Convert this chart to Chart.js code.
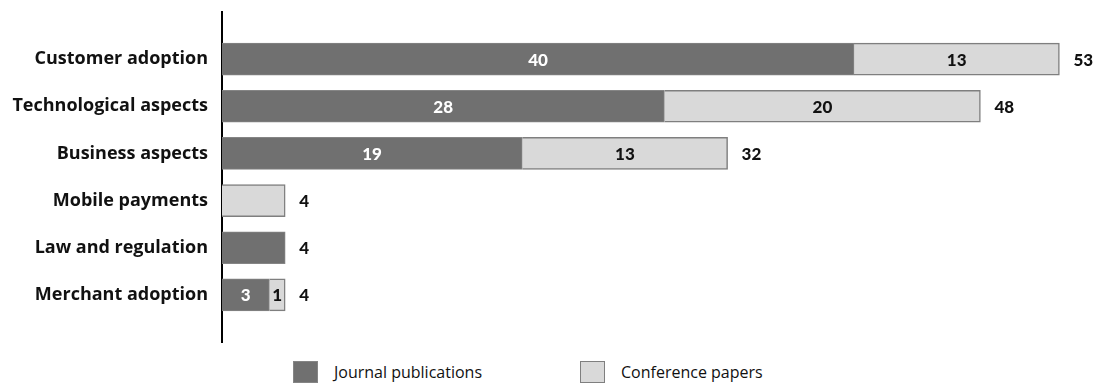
<!DOCTYPE html>
<html>
<head>
<meta charset="utf-8">
<script src="https://cdn.jsdelivr.net/npm/chart.js@4"></script>
<style>
  body { margin: 0; background: #fff; }
  #wrap { width: 1095px; height: 350px; position: relative; }
  #legend { position: relative; width: 1095px; height: 33px; font-family: 'Open Sans', sans-serif; font-size: 16px; color: #111; }
  #legend .item { position: absolute; top: 11px; height: 22px; line-height: 22px; white-space: nowrap; }
  #legend .box { display: inline-block; width: 25px; height: 22px; box-sizing: border-box; vertical-align: top; margin-right: 16px; }
</style>
</head>
<body>
<div id="wrap"><canvas id="bar-chart"></canvas></div>
<div id="legend"></div>
<script>
var categories = ["Customer adoption", "Technological aspects", "Business aspects",
                  "Mobile payments", "Law and regulation", "Merchant adoption"];
var journal = [40, 28, 19, 0, 4, 3];
var conference = [13, 20, 13, 4, 0, 1];

// bars sit on a linear index axis so the axis line runs past the first/last row
function points(values) {
  return values.map(function (v, i) { return { x: v || null, y: i }; });
}

var FONT = "'Open Sans', 'DejaVu Sans', sans-serif";
var NUM_FONT = "900 17px Lato, 'DejaVu Sans', sans-serif";

// segment numbers inside the bars and the totals at their right end
var barLabels = {
  id: 'barLabels',
  afterDatasetsDraw: function (chart) {
    var ctx = chart.ctx;
    ctx.save();
    ctx.font = NUM_FONT;
    ctx.textBaseline = 'middle';
    ctx.textAlign = 'center';
    chart.data.datasets.forEach(function (ds, di) {
      chart.getDatasetMeta(di).data.forEach(function (bar, i) {
        var v = ds.data[i].x;
        // only split rows get numbers inside the segments
        if (!v || !journal[i] || !conference[i]) return;
        ctx.fillStyle = di === 0 ? '#ffffff' : '#111111';
        ctx.fillText(v, (bar.x + bar.base) / 2, bar.y + 1);
      });
    });
    ctx.textAlign = 'left';
    ctx.fillStyle = '#111111';
    var xs = chart.scales.x;
    categories.forEach(function (c, i) {
      var total = journal[i] + conference[i];
      var bar = chart.getDatasetMeta(0).data[i];
      ctx.fillText(total, xs.getPixelForValue(total) + 14, bar.y + 1);
    });
    ctx.restore();
  }
};

var chart = new Chart(document.getElementById("bar-chart"), {
  type: 'bar',
  data: {
    datasets: [{
      label: "Journal publications",
      data: points(journal),
      backgroundColor: "#707070",
      borderColor: "#858585",
      borderWidth: 1,
      barThickness: 32
    }, {
      label: "Conference papers",
      data: points(conference),
      backgroundColor: "#d9d9d9",
      borderColor: "#7f7f7f",
      borderWidth: 1.5,
      barThickness: 32
    }]
  },
  options: {
    indexAxis: 'y',
    responsive: true,
    maintainAspectRatio: false,
    animation: false,
    layout: { padding: { top: 12, right: 4, left: 0, bottom: 8 } },
    scales: {
      x: {
        type: 'linear',
        stacked: true,
        min: 0,
        max: 55,
        display: false
      },
      y: {
        type: 'linear',
        stacked: true,
        reverse: true,
        offset: false,
        min: -1,
        max: 6,
        grid: { display: false, drawTicks: false },
        border: { display: true, color: '#000', width: 2 },
        afterFit: function (scale) {
          scale.width = 222;
          scale.paddingTop = 0;
          scale.paddingBottom = 0;
        },
        ticks: {
          stepSize: 1,
          padding: 14,
          color: '#111',
          font: { family: FONT, size: 18, weight: 'bold' },
          callback: function (v) { return categories[v] || ''; }
        }
      }
    },
    plugins: {
      legend: { display: false },
      tooltip: { enabled: false }
    }
  },
  plugins: [barLabels]
});

// html legend built from the chart's datasets
var legendLeft = [293, 580];
var legendEl = document.getElementById('legend');
chart.data.datasets.forEach(function (ds, i) {
  var item = document.createElement('div');
  item.className = 'item';
  item.style.left = legendLeft[i] + 'px';
  var box = document.createElement('span');
  box.className = 'box';
  box.style.background = ds.backgroundColor;
  box.style.border = '1px solid ' + ds.borderColor;
  item.appendChild(box);
  item.appendChild(document.createTextNode(ds.label));
  legendEl.appendChild(item);
});
</script>
</body>
</html>
